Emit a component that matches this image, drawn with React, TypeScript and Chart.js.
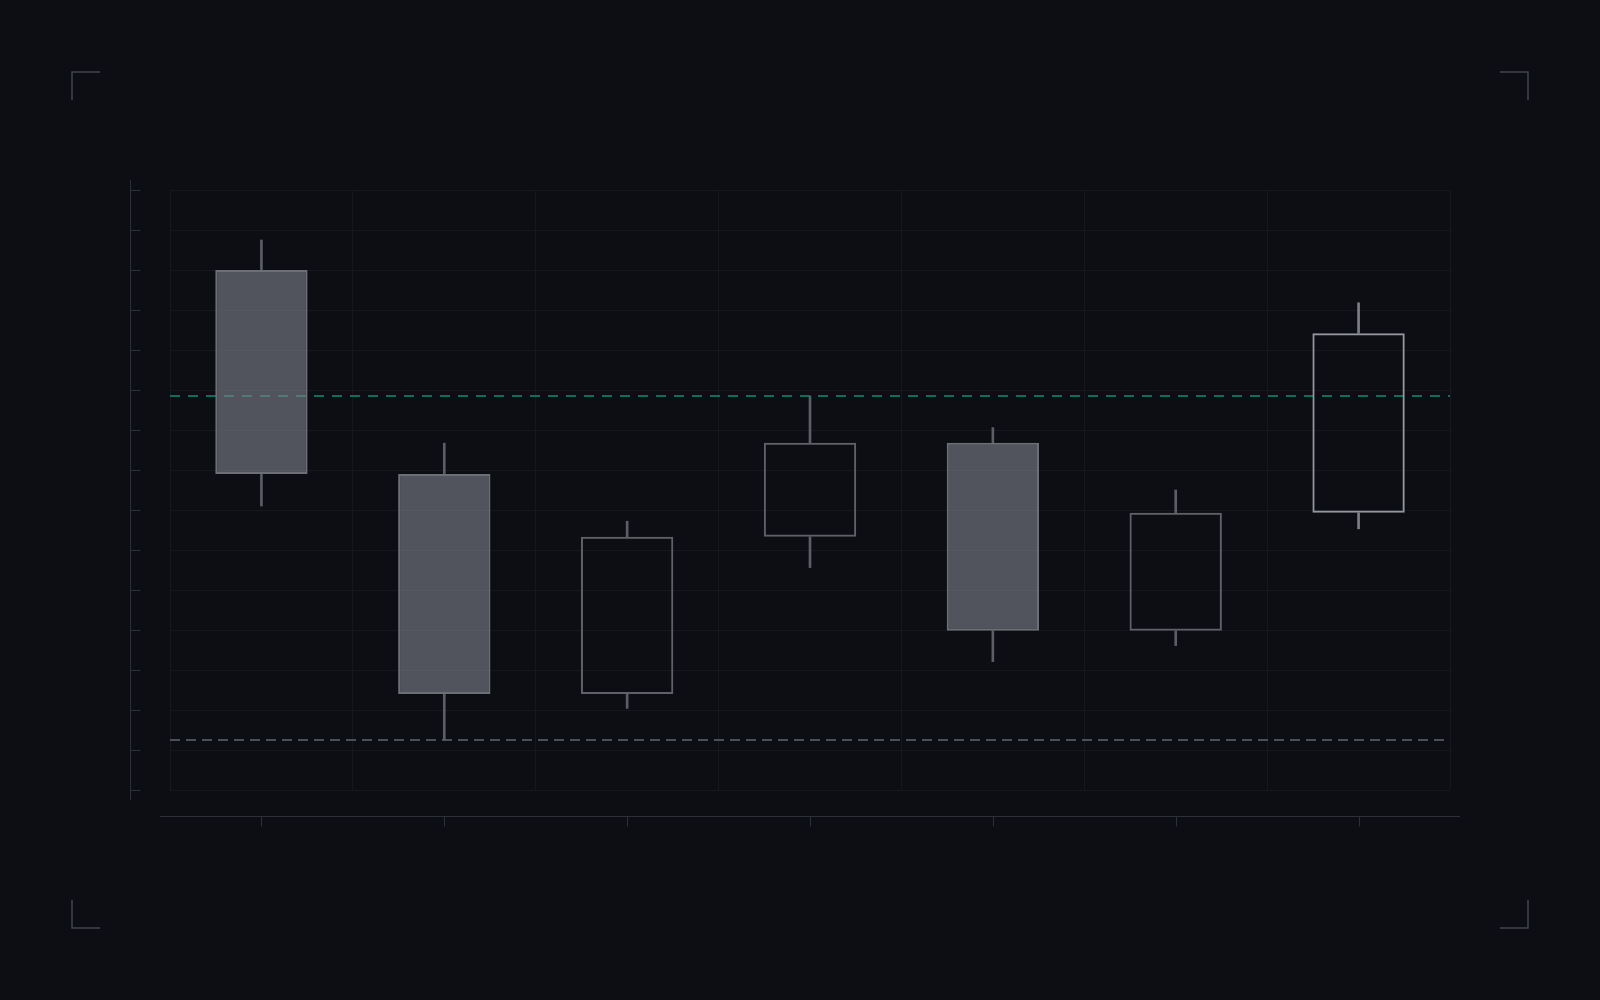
import { useEffect, useRef } from 'react';
import { Chart, registerables } from 'chart.js';

Chart.register(...registerables);

// sessions (labels are not shown on the chart)
const sessions = ['S1', 'S2', 'S3', 'S4', 'S5', 'S6', 'S7'];
const opens = [230, 179, 124, 163.3, 186.8, 139.8, 169.3];
const closes = [179, 124, 163.3, 186.8, 139.8, 169.3, 214.2];
const highs = [237.5, 186.7, 167.2, 198.5, 190.6, 175, 221.8];
const lows = [171, 112.5, 120.4, 155.6, 132.1, 136.1, 165.3];

// reference levels
const resistanceLevel = 198.5;
const supportLevel = 112.5;

// y range
const yMin = 100;
const yMax = 250;
const yStep = 10;

const BG = '#0c0e13';

export default function App() {
  const canvasRef = useRef<HTMLCanvasElement>(null);
  const chartRef = useRef<Chart | null>(null);

  useEffect(() => {
    if (!canvasRef.current) return;
    const ctx = canvasRef.current.getContext('2d');
    if (!ctx) return;

    const last = sessions.length - 1;
    const bearish = opens.map((o, i) => o > closes[i]);

    const bodyFill = bearish.map(b => (b ? 'rgba(125, 128, 137, 0.62)' : 'rgba(0,0,0,0)'));
    const bodyBorder = bearish.map((b, i) =>
      i === last ? '#94979d' : b ? '#6c6f76' : '#5e6167'
    );
    const wickColor = bearish.map((b, i) => (i === last ? '#7c7f85' : '#5b5e64'));

    // decorations: background, reference lines, detached axes, corner brackets
    const decor = {
      id: 'decor',
      beforeDraw(chart: Chart) {
        const c = chart.ctx;
        c.save();
        c.fillStyle = BG;
        c.fillRect(0, 0, chart.width, chart.height);
        c.restore();
      },
      beforeDatasetsDraw(chart: Chart) {
        const c = chart.ctx;
        const { left, right } = chart.chartArea;
        const y = chart.scales.y;
        const drawLevel = (v: number, color: string, dash: number[]) => {
          const py = Math.round(y.getPixelForValue(v));
          c.save();
          c.strokeStyle = color;
          c.lineWidth = 2;
          c.setLineDash(dash);
          c.beginPath();
          c.moveTo(left, py);
          c.lineTo(right, py);
          c.stroke();
          c.restore();
        };
        drawLevel(resistanceLevel, '#0f6d5c', [10, 8]);
        drawLevel(supportLevel, '#4b4f56', [10, 6]);
      },
      afterDraw(chart: Chart) {
        const c = chart.ctx;
        const { left, right, top, bottom } = chart.chartArea;
        const x = chart.scales.x;
        const y = chart.scales.y;
        c.save();
        c.strokeStyle = '#2b3039';
        c.lineWidth = 1;

        // y axis, detached to the left
        const ax = left - 39.5;
        c.beginPath();
        c.moveTo(ax, top - 10);
        c.lineTo(ax, bottom + 10);
        c.stroke();
        y.ticks.forEach(t => {
          const py = Math.round(y.getPixelForValue(t.value)) + 0.5;
          c.beginPath();
          c.moveTo(ax, py);
          c.lineTo(ax + 10, py);
          c.stroke();
        });

        // x axis, detached below
        const ay = bottom + 26.5;
        c.beginPath();
        c.moveTo(left - 10, ay);
        c.lineTo(right + 10, ay);
        c.stroke();
        sessions.forEach((_, i) => {
          const px = Math.round(x.getPixelForValue(i)) + 0.5;
          c.beginPath();
          c.moveTo(px, ay);
          c.lineTo(px, ay + 10);
          c.stroke();
        });

        // corner brackets
        c.strokeStyle = '#3f454f';
        c.lineWidth = 1.5;
        const m = 72;
        const arm = 28;
        const W = chart.width;
        const H = chart.height;
        const corners = [
          [m, m, 1, 1],
          [W - m, m, -1, 1],
          [m, H - m, 1, -1],
          [W - m, H - m, -1, -1],
        ];
        corners.forEach(([cx, cy, dx, dy]) => {
          c.beginPath();
          c.moveTo(cx + dx * arm, cy);
          c.lineTo(cx, cy);
          c.lineTo(cx, cy + dy * arm);
          c.stroke();
        });
        c.restore();
      },
    };

    chartRef.current = new Chart(ctx, {
      type: 'bar',
      data: {
        labels: sessions,
        datasets: [
          {
            label: 'Body',
            data: opens.map((o, i) => [o, closes[i]]),
            backgroundColor: bodyFill,
            borderColor: bodyBorder,
            borderWidth: 2,
            borderSkipped: false,
            barPercentage: 0.505,
            categoryPercentage: 1,
            grouped: false,
          },
          {
            label: 'Upper wick',
            data: highs.map((h, i) => [Math.max(opens[i], closes[i]), h]),
            backgroundColor: wickColor,
            borderWidth: 0,
            barThickness: 2,
            grouped: false,
          },
          {
            label: 'Lower wick',
            data: lows.map((l, i) => [l, Math.min(opens[i], closes[i])]),
            backgroundColor: wickColor,
            borderWidth: 0,
            barThickness: 2,
            grouped: false,
          },
        ],
      },
      options: {
        responsive: false,
        animation: false,
        events: [],
        layout: {
          padding: { left: 170, top: 190, right: 150, bottom: 210 },
        },
        plugins: {
          legend: { display: false },
          tooltip: { enabled: false },
        },
        scales: {
          x: {
            offset: true,
            grid: { color: '#16181e', drawTicks: false, offset: true },
            border: { display: false },
            ticks: { display: false },
          },
          y: {
            min: yMin,
            max: yMax,
            grid: { color: '#16181e', drawTicks: false },
            border: { display: false },
            ticks: { display: false, stepSize: yStep },
          },
        },
      },
      plugins: [decor],
    });

    return () => {
      if (chartRef.current) {
        chartRef.current.destroy();
        chartRef.current = null;
      }
    };
  }, []);

  return (
    <div style={{ position: 'fixed', inset: 0, background: BG }}>
      <canvas ref={canvasRef} width={1600} height={1000} />
    </div>
  );
}
